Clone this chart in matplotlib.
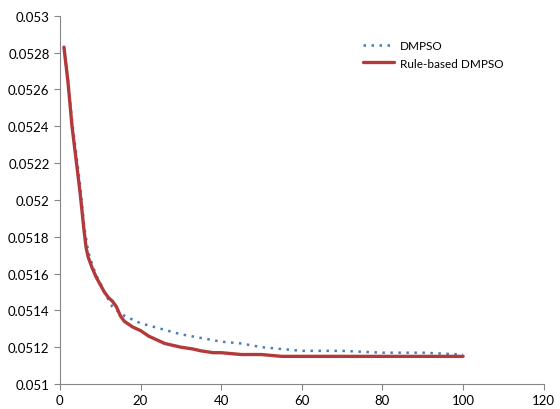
import matplotlib
matplotlib.use("Agg")
import matplotlib.pyplot as plt

plt.rcParams['font.family'] = ['Lato', 'DejaVu Sans']

# DMPSO (dotted blue)
x_dmpso = [1, 2, 3, 4, 5, 6, 7, 8, 9, 10, 11, 12, 13, 14, 15, 16, 18, 20, 25, 30,
           35, 40, 45, 50, 55, 60, 70, 80, 90, 100]
y_dmpso = [0.05283, 0.05265, 0.05243, 0.05226, 0.05208, 0.05186, 0.05172, 0.05165,
           0.05159, 0.05155, 0.05150, 0.05146, 0.05142, 0.05140, 0.05139, 0.05137,
           0.05135, 0.05133, 0.05130, 0.05127, 0.05125, 0.05123, 0.05122, 0.05120,
           0.05119, 0.05118, 0.05118, 0.05117, 0.05117, 0.05116]

# Rule-based DMPSO (solid red)
x_rule = [1, 2, 3, 4, 5, 6, 6.5, 7, 8, 9, 10, 11, 12, 13, 14, 15, 16, 18, 20, 22, 24,
          26, 28, 30, 33, 35, 38, 40, 45, 50, 55, 60, 70, 80, 90, 100]
y_rule = [0.05283, 0.05264, 0.05240, 0.05222, 0.05204, 0.05183, 0.05174, 0.05169, 0.05163,
          0.05158, 0.05154, 0.05150, 0.05147, 0.05145, 0.05142, 0.05137, 0.05134,
          0.05131, 0.05129, 0.05126, 0.05124, 0.05122, 0.05121, 0.05120, 0.05119,
          0.05118, 0.05117, 0.05117, 0.05116, 0.05116, 0.05115, 0.05115, 0.05115,
          0.05115, 0.05115, 0.05115]

series_labels = ["DMPSO", "Rule-based DMPSO"]
x_ticks = [0, 20, 40, 60, 80, 100, 120]
y_ticks = [0.051, 0.0512, 0.0514, 0.0516, 0.0518, 0.052, 0.0522, 0.0524, 0.0526, 0.0528, 0.053]
y_tick_labels = ["0.051", "0.0512", "0.0514", "0.0516", "0.0518", "0.052", "0.0522",
                 "0.0524", "0.0526", "0.0528", "0.053"]

fig = plt.figure(figsize=(5.6, 4.1), dpi=100)
ax = fig.add_axes([0.107, 0.061, 0.864, 0.898])

ax.plot(x_dmpso, y_dmpso, color='#4A7EBB', linestyle=(0, (1, 2.2)), linewidth=1.8,
        label=series_labels[0])
ax.plot(x_rule, y_rule, color='#B23A3A', linewidth=2.4, label=series_labels[1],
        solid_capstyle='round', solid_joinstyle='round')

ax.set_xlim(0, 120)
ax.set_ylim(0.051, 0.053)
ax.set_xticks(x_ticks)
ax.set_xticklabels([str(t) for t in x_ticks])
ax.set_yticks(y_ticks)
ax.set_yticklabels(y_tick_labels)

for s in ['top', 'right']:
    ax.spines[s].set_visible(False)
for s in ['left', 'bottom']:
    ax.spines[s].set_color('#868686')
    ax.spines[s].set_linewidth(0.8)
ax.tick_params(axis='both', colors='#868686', labelcolor='#000000', labelsize=9.5,
               length=4, width=0.8, direction='out')
ax.tick_params(axis='x', pad=3)

leg = ax.legend(loc='upper left', bbox_to_anchor=(0.605, 0.963), frameon=False,
                fontsize=8.5, handlelength=2.6, labelspacing=0.55, handletextpad=0.5)

fig.savefig('out.png', dpi=100)
